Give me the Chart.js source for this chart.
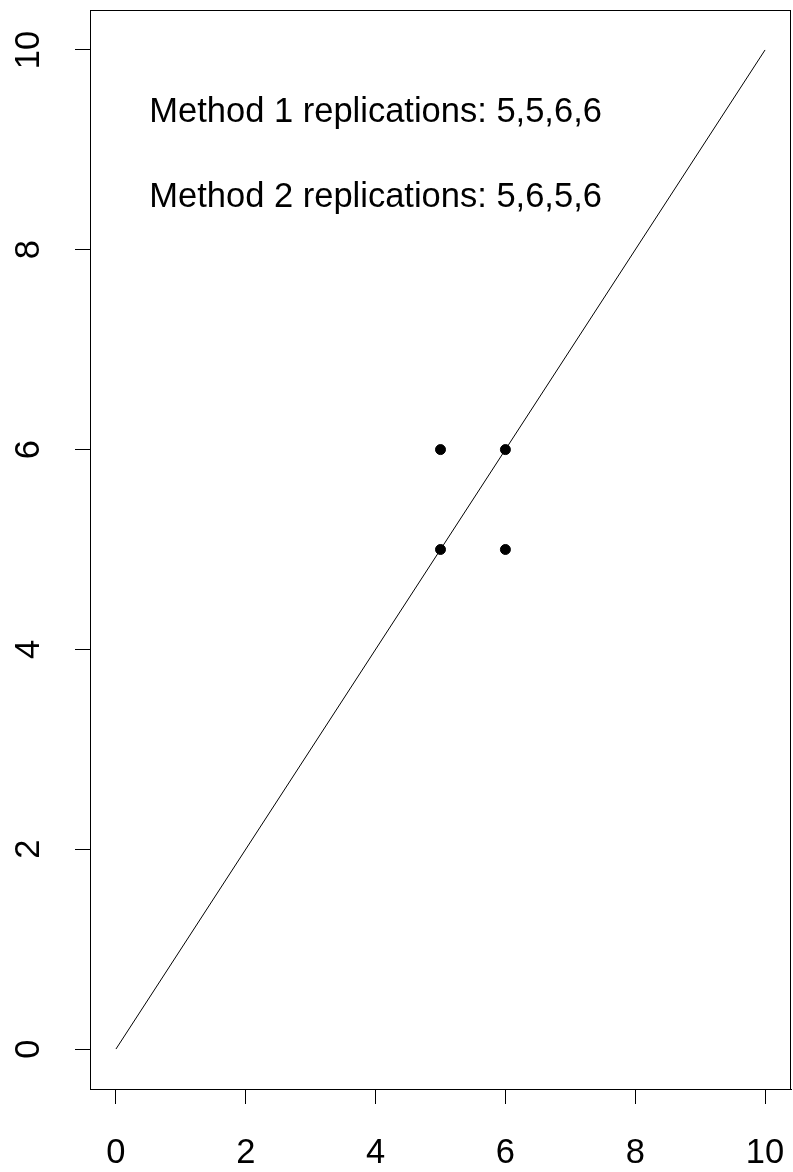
<!DOCTYPE html>
<html>
<head>
<meta charset="utf-8">
<script src="https://cdn.jsdelivr.net/npm/chart.js@4.4.1/dist/chart.umd.min.js"></script>
<style>
  body { margin: 0; background: #fff; }
  canvas { display: block; }
</style>
</head>
<body>
<canvas id="grafico" width="793" height="1172"></canvas>
<script>
// dados
const pontosX = [5, 5, 6, 6];
const pontosY = [5, 6, 6, 5];
const linhaX = [0, 10];
const linhaY = [0, 10];
const ticksX = [0, 2, 4, 6, 8, 10];
const ticksY = [0, 2, 4, 6, 8, 10];
const textos = ["Method 1 replications: 5,5,6,6", "Method 2 replications: 5,6,5,6"];
const textoX = 4;
const textoY = [9.4, 8.55];

const familia = "'Liberation Sans', Arial, sans-serif";
const tamanho = 34.5;
const fonte = tamanho + "px " + familia;

const molduraEtextos = {
  id: 'molduraEtextos',
  afterDraw(chart) {
    const ctx = chart.ctx;
    const a = chart.chartArea;
    const sx = chart.scales.x, sy = chart.scales.y;
    ctx.save();
    ctx.strokeStyle = '#000';
    ctx.lineWidth = 1;
    ctx.strokeRect(Math.round(a.left) + 0.5, Math.round(a.top) + 0.5,
                   Math.round(a.right - a.left) - 1, Math.round(a.bottom - a.top));
    ctx.fillStyle = '#000';
    ctx.font = fonte;
    // rotulos do eixo y, girados
    ticksY.forEach(v => {
      ctx.save();
      ctx.translate(39, sy.getPixelForValue(v));
      ctx.rotate(-Math.PI / 2);
      ctx.textAlign = 'center';
      ctx.textBaseline = 'alphabetic';
      ctx.fillText(String(v), 0, 0);
      ctx.restore();
    });
    // textos dentro do grafico
    ctx.textAlign = 'center';
    ctx.textBaseline = 'alphabetic';
    textos.forEach((t, i) => {
      ctx.fillText(t, sx.getPixelForValue(textoX), sy.getPixelForValue(textoY[i]) + 12);
    });
    ctx.restore();
  }
};

new Chart(document.getElementById("grafico"), {
  type: 'scatter',
  data: {
    datasets: [{
        data: pontosX.map((x, i) => ({x: x, y: pontosY[i]})),
        backgroundColor: '#000',
        borderColor: '#000',
        pointRadius: 5,
        pointHoverRadius: 5
      }, {
        type: 'line',
        data: linhaX.map((x, i) => ({x: x, y: linhaY[i]})),
        borderColor: '#000',
        borderWidth: 1,
        pointRadius: 0,
        fill: false
      }
    ]
  },
  options: {
    responsive: false,
    animation: false,
    layout: { autoPadding: false, padding: { top: 10, right: 2, left: 0, bottom: 0 } },
    plugins: { legend: { display: false }, tooltip: { enabled: false } },
    scales: {
      x: {
        type: 'linear',
        min: -0.4,
        max: 10.4,
        afterBuildTicks: s => { s.ticks = ticksX.map(v => ({value: v})); },
        afterFit: s => { s.height = 83; s.paddingLeft = 0; s.paddingRight = 0; },
        grid: { color: '#000', drawOnChartArea: false, tickLength: 15, lineWidth: 1 },
        border: { color: '#000', width: 1 },
        ticks: {
          color: '#000',
          font: { family: familia, size: tamanho },
          padding: 29,
          maxRotation: 0,
          autoSkip: false
        }
      },
      y: {
        type: 'linear',
        min: -0.4,
        max: 10.4,
        afterBuildTicks: s => { s.ticks = ticksY.map(v => ({value: v})); },
        afterFit: s => { s.width = 90; s.paddingTop = 0; s.paddingBottom = 0; },
        grid: { color: '#000', drawOnChartArea: false, tickLength: 15, lineWidth: 1 },
        border: { color: '#000', width: 1 },
        ticks: { display: false }
      }
    }
  },
  plugins: [molduraEtextos]
});
</script>
</body>
</html>
